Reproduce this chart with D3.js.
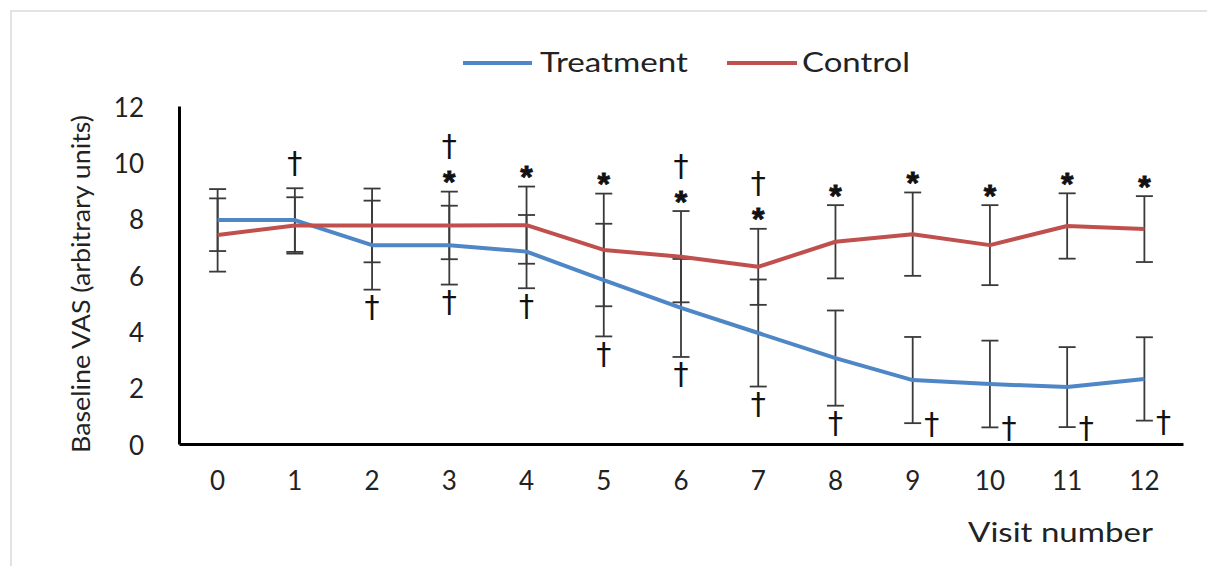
<!DOCTYPE html>
<html>
<head>
<meta charset="utf-8">
<script src="https://cdn.jsdelivr.net/npm/d3@7/dist/d3.min.js"></script>
<style>
  html, body { margin: 0; padding: 0; background: #fff; }
  svg { display: block; }
  text { font-family: Lato, "Open Sans", "DejaVu Sans", sans-serif; fill: #222; }
  text.star { font-family: "Liberation Sans", Arial, sans-serif; fill: #111; }
  text.dagger { font-family: "DejaVu Sans", sans-serif; fill: #111; }
</style>
</head>
<body>
<svg id="chart" width="1207" height="566"></svg>
<script>
// ---- data ----
const visits = ["0","1","2","3","4","5","6","7","8","9","10","11","12"];
const treatment    = [7.95, 7.95, 7.06, 7.06, 6.83, 5.82, 4.83, 3.94, 3.05, 2.27, 2.13, 2.02, 2.31];
const treatmentErr = [1.10, 1.13, 1.58, 1.40, 1.30, 2.00, 1.74, 1.90, 1.69, 1.53, 1.54, 1.42, 1.48];
const control      = [7.42, 7.76, 7.76, 7.76, 7.77, 6.89, 6.65, 6.29, 7.18, 7.45, 7.06, 7.74, 7.63];
const controlErr   = [1.30, 1.00, 1.31, 1.20, 1.37, 2.00, 1.62, 1.35, 1.30, 1.48, 1.42, 1.16, 1.17];
const yTicks = [0, 2, 4, 6, 8, 10, 12];
const seriesNames = ["Treatment", "Control"];
// significance markers (visit indices)
const starAbove = [3, 4, 5, 6, 7, 8, 9, 10, 11, 12];
const daggerAbove = [1, 3, 6, 7];
const daggerBelow = [2, 3, 4, 5, 6, 7, 8];
const daggerBelowSide = [9, 10, 11, 12];
const xTitle = "Visit number";
const yTitle = "Baseline VAS (arbitrary units)";

// ---- layout ----
const colors = ["#4F86C6", "#C0504D"];
const svg = d3.select("#chart");

// faint frame
svg.append("line").attr("x1", 10).attr("x2", 1207).attr("y1", 11).attr("y2", 11)
  .attr("stroke", "#e3e3e3").attr("stroke-width", 2);
svg.append("line").attr("x1", 11).attr("x2", 11).attr("y1", 10).attr("y2", 566)
  .attr("stroke", "#e3e3e3").attr("stroke-width", 2);

const x = d3.scaleBand().domain(visits).range([179, 1183]);
const cx = d => x(d) + x.bandwidth() / 2;
const y = d3.scaleLinear().domain([0, 12]).range([444, 106]);

// axes
const xAxis = svg.append("g").attr("transform", "translate(0,444)")
  .call(d3.axisBottom(x).tickSizeInner(0).tickSizeOuter(0).tickPadding(0));
xAxis.select(".domain").attr("stroke", "#000").attr("stroke-width", 3);
xAxis.selectAll("text").attr("y", 46).attr("dy", null)
  .style("font-size", "26px").style("fill", "#222");

const yAxis = svg.append("g").attr("transform", "translate(179,0)")
  .call(d3.axisLeft(y).tickValues(yTicks).tickSizeInner(0).tickSizeOuter(0).tickPadding(0));
yAxis.select(".domain").attr("stroke", "#000").attr("stroke-width", 3);
yAxis.selectAll("text").attr("x", -35).attr("dy", "10px")
  .style("font-size", "26px").style("fill", "#222").attr("text-anchor", "end");

// error bars
const series = [
  { name: seriesNames[0], vals: treatment, errs: treatmentErr, color: colors[0] },
  { name: seriesNames[1], vals: control, errs: controlErr, color: colors[1] }
];
const capW = 8.5;
series.forEach(s => {
  const g = svg.append("g").attr("stroke", "#3a3a3a").attr("stroke-width", 1.8);
  visits.forEach((v, i) => {
    const xc = cx(v), y1 = y(s.vals[i] + s.errs[i]), y2 = y(s.vals[i] - s.errs[i]);
    g.append("line").attr("x1", xc).attr("x2", xc).attr("y1", y1).attr("y2", y2);
    g.append("line").attr("x1", xc - capW).attr("x2", xc + capW).attr("y1", y1).attr("y2", y1);
    g.append("line").attr("x1", xc - capW).attr("x2", xc + capW).attr("y1", y2).attr("y2", y2);
  });
});

// lines
const line = d3.line().x((d, i) => cx(visits[i])).y(d => y(d));
series.forEach(s => {
  svg.append("path").datum(s.vals).attr("d", line)
    .attr("fill", "none").attr("stroke", s.color).attr("stroke-width", 4)
    .attr("stroke-linejoin", "round");
});

// significance markers (positions are alphabetic baselines)
const topY = i => Math.min(y(treatment[i] + treatmentErr[i]), y(control[i] + controlErr[i]));
const botY = i => Math.max(y(treatment[i] - treatmentErr[i]), y(control[i] - controlErr[i]));
const dagger = (xp, yb) => svg.append("text").attr("class", "dagger").attr("x", xp).attr("y", yb)
  .attr("text-anchor", "middle").style("font-size", "30px").text("\u2020");
const star = (xp, yb) => svg.append("text").attr("class", "star").attr("x", xp).attr("y", yb)
  .attr("text-anchor", "middle").style("font-size", "32px").style("font-weight", 700)
  .attr("stroke", "#111").attr("stroke-width", 0.8).text("*");

starAbove.forEach(i => star(cx(visits[i]), topY(i) + 1.5));
daggerAbove.forEach(i => {
  const yb = starAbove.includes(i) ? topY(i) - 35.5 : topY(i) - 15;
  dagger(cx(visits[i]), yb);
});
daggerBelow.forEach(i => dagger(cx(visits[i]), botY(i) + 27.5));
daggerBelowSide.forEach(i => dagger(cx(visits[i]) + 19, botY(i) + 11));

// legend
const legend = [
  { x1: 463, x2: 532, tx: 540, tl: 148 },
  { x1: 727, x2: 797, tx: 802, tl: 108 }
];
legend.forEach((l, k) => {
  svg.append("line").attr("x1", l.x1).attr("x2", l.x2).attr("y1", 63).attr("y2", 63)
    .attr("stroke", colors[k]).attr("stroke-width", 4);
  svg.append("text").attr("x", l.tx).attr("y", 72)
    .attr("textLength", l.tl).attr("lengthAdjust", "spacingAndGlyphs")
    .style("font-size", "26px").text(seriesNames[k]);
});

// axis titles
svg.append("text").attr("x", 968).attr("y", 542)
  .attr("textLength", 185).attr("lengthAdjust", "spacingAndGlyphs")
  .style("font-size", "26px").text(xTitle);
svg.append("text").attr("transform", "translate(90,284) rotate(-90)")
  .attr("text-anchor", "middle")
  .attr("textLength", 338).attr("lengthAdjust", "spacingAndGlyphs")
  .style("font-size", "25px").text(yTitle);
</script>
</body>
</html>
